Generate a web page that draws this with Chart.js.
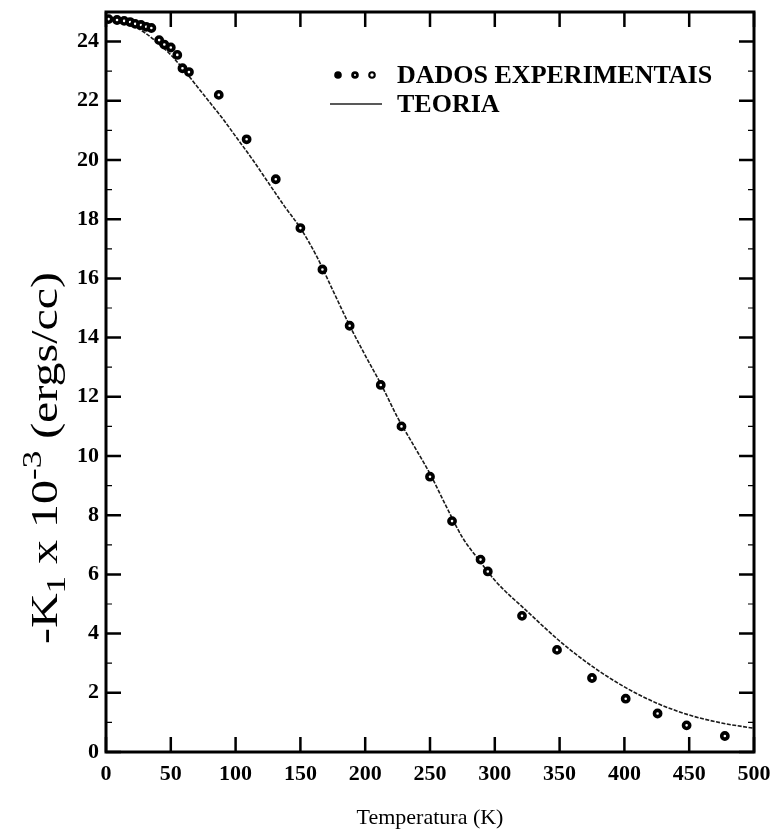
<!DOCTYPE html>
<html>
<head>
<meta charset="utf-8">
<script src="https://cdn.jsdelivr.net/npm/chart.js@4.4.1/dist/chart.umd.min.js"></script>
<style>
  html, body { margin: 0; padding: 0; background: #fff; }
  #wrap { width: 771px; height: 840px; }
</style>
</head>
<body>
<div id="wrap"><canvas id="c" width="771" height="840"></canvas></div>
<script>
// Measured anisotropy constant, -K1 x 10^-3 (ergs/cc), against temperature (K)
const expT = [2, 8.5, 14, 18.6, 22.5, 27, 31, 35, 41, 45, 50, 55, 59, 64, 87, 108.5, 131, 150, 167, 188, 212, 228, 250, 267, 289, 294.6, 321, 348, 375, 401, 425.6, 448, 477.5];
const expK = [24.76, 24.73, 24.7, 24.66, 24.6, 24.56, 24.5, 24.46, 24.05, 23.9, 23.8, 23.55, 23.1, 22.97, 22.2, 20.7, 19.35, 17.7, 16.3, 14.4, 12.4, 11.0, 9.3, 7.8, 6.5, 6.1, 4.6, 3.45, 2.5, 1.8, 1.3, 0.9, 0.54];

// Theoretical curve
const theoryT = [0, 10, 20, 30, 40, 50, 60, 70, 80, 90, 100, 112.5, 125, 137.5, 150, 162.5, 175, 187.5, 200, 212.5, 225, 237.5, 250, 262.5, 275, 287.5, 300, 325, 350, 375, 400, 425, 450, 475, 500];
const theoryK = [24.8, 24.72, 24.55, 24.3, 23.95, 23.55, 23.05, 22.5, 21.95, 21.4, 20.8, 20.05, 19.25, 18.45, 17.7, 16.75, 15.6, 14.45, 13.4, 12.4, 11.3, 10.35, 9.4, 8.3, 7.25, 6.5, 5.8, 4.75, 3.75, 2.9, 2.2, 1.65, 1.25, 0.98, 0.8];

const xTicks = [0, 50, 100, 150, 200, 250, 300, 350, 400, 450, 500];
const yTicks = [0, 2, 4, 6, 8, 10, 12, 14, 16, 18, 20, 22, 24];
const yMinorTicks = [1, 3, 5, 7, 9, 11, 13, 15, 17, 19, 21, 23];

const legendLabels = ['DADOS EXPERIMENTAIS', 'TEORIA'];
const xTitle = 'Temperatura (K)';

const SERIF = "'Liberation Serif', 'DejaVu Serif', serif";

// Frame with inward tick marks on all four sides
const framePlugin = {
  id: 'frame',
  afterDraw(chart) {
    const { ctx, chartArea: a, scales: { x, y } } = chart;
    ctx.save();
    ctx.strokeStyle = '#000';
    ctx.lineWidth = 3;
    ctx.strokeRect(a.left, a.top, a.right - a.left, a.bottom - a.top);
    ctx.lineWidth = 2.5;
    const major = 15, minor = 6;
    ctx.beginPath();
    xTicks.forEach(v => {
      const px = x.getPixelForValue(v);
      ctx.moveTo(px, a.bottom); ctx.lineTo(px, a.bottom - major);
      ctx.moveTo(px, a.top); ctx.lineTo(px, a.top + major);
    });
    yTicks.forEach(v => {
      const py = y.getPixelForValue(v);
      ctx.moveTo(a.left, py); ctx.lineTo(a.left + major, py);
      ctx.moveTo(a.right, py); ctx.lineTo(a.right - major, py);
    });
    ctx.stroke();
    ctx.lineWidth = 1.2;
    ctx.beginPath();
    yMinorTicks.forEach(v => {
      const py = y.getPixelForValue(v);
      ctx.moveTo(a.left, py); ctx.lineTo(a.left + minor, py);
      ctx.moveTo(a.right, py); ctx.lineTo(a.right - minor, py);
    });
    ctx.stroke();
    ctx.restore();
  }
};

// Axis titles (y title carries a subscript and a superscript) and in-plot legend
const textPlugin = {
  id: 'texts',
  afterDraw(chart) {
    const { ctx, chartArea: a } = chart;
    ctx.save();
    ctx.fillStyle = '#000';

    // x title
    ctx.font = `22px ${SERIF}`;
    ctx.textAlign = 'center';
    ctx.textBaseline = 'alphabetic';
    ctx.fillText(xTitle, (a.left + a.right) / 2, 824);

    // y title, rotated
    const parts = [
      { t: '-K', size: 37, dy: 0 },
      { t: '1', size: 27, dy: 8 },
      { t: ' x 10', size: 37, dy: 0 },
      { t: '-3', size: 27, dy: -16 },
      { t: ' (ergs/cc)', size: 37, dy: 0 }
    ];
    let total = 0;
    parts.forEach(p => { ctx.font = `${p.size}px ${SERIF}`; p.w = ctx.measureText(p.t).width; total += p.w; });
    const span = 372;
    ctx.translate(57, 458);
    ctx.rotate(-Math.PI / 2);
    ctx.scale(span / total, 1);
    ctx.textAlign = 'left';
    let cx = -total / 2;
    parts.forEach(p => {
      ctx.font = `${p.size}px ${SERIF}`;
      ctx.fillText(p.t, cx, p.dy);
      cx += p.w;
    });
    ctx.setTransform(1, 0, 0, 1, 0, 0);

    // legend
    ctx.font = `bold 26px ${SERIF}`;
    ctx.textAlign = 'left';
    ctx.textBaseline = 'middle';
    const ly1 = 75, ly2 = 104;
    [[338, 0], [355, 1.0], [372, 1.7]].forEach(([mx, hole]) => {
      ctx.beginPath();
      ctx.arc(mx, ly1, 3.8, 0, Math.PI * 2);
      ctx.fillStyle = '#000';
      ctx.fill();
      if (hole > 0) {
        ctx.beginPath();
        ctx.arc(mx, ly1, hole, 0, Math.PI * 2);
        ctx.fillStyle = '#fff';
        ctx.fill();
      }
    });
    ctx.fillStyle = '#000';
    ctx.fillText(legendLabels[0], 397, ly1 + 1);
    ctx.beginPath();
    ctx.lineWidth = 1.3;
    ctx.strokeStyle = '#222';
    ctx.moveTo(330, ly2); ctx.lineTo(382, ly2);
    ctx.stroke();
    ctx.fillText(legendLabels[1], 397, ly2 + 1);
    ctx.restore();
  }
};

const zeroPad = s => { s.paddingLeft = 0; s.paddingRight = 0; s.paddingTop = 0; s.paddingBottom = 0; };

new Chart(document.getElementById('c'), {
  type: 'scatter',
  data: {
    datasets: [
      {
        label: legendLabels[1],
        type: 'line',
        data: theoryT.map((t, i) => ({ x: t, y: theoryK[i] })),
        borderColor: '#1a1a1a',
        borderWidth: 1.6,
        borderDash: [4, 1.5],
        pointRadius: 0,
        cubicInterpolationMode: 'monotone',
        fill: false,
        order: 2
      },
      {
        label: legendLabels[0],
        data: expT.map((t, i) => ({ x: t, y: expK[i] })),
        pointStyle: 'circle',
        pointRadius: 3.1,
        pointBorderWidth: 3.6,
        pointBorderColor: '#000',
        pointBackgroundColor: '#fff',
        order: 1
      }
    ]
  },
  options: {
    responsive: false,
    animation: false,
    devicePixelRatio: 1,
    layout: { padding: { top: 12, right: 17, left: 0, bottom: 0 } },
    plugins: { legend: { display: false }, tooltip: { enabled: false } },
    scales: {
      x: {
        type: 'linear',
        min: 0, max: 500,
        afterBuildTicks: s => { s.ticks = xTicks.map(v => ({ value: v })); },
        afterFit: s => { s.height = 88; zeroPad(s); },
        grid: { display: false, drawTicks: false },
        border: { display: false },
        ticks: { color: '#000', padding: 9, maxRotation: 0, font: { family: SERIF, size: 22, weight: 'bold' } }
      },
      y: {
        type: 'linear',
        min: 0, max: 25,
        afterBuildTicks: s => { s.ticks = yTicks.map(v => ({ value: v })); },
        afterFit: s => { s.width = 106; zeroPad(s); },
        grid: { display: false, drawTicks: false },
        border: { display: false },
        ticks: { color: '#000', padding: 7, font: { family: SERIF, size: 22, weight: 'bold' } }
      }
    }
  },
  plugins: [framePlugin, textPlugin]
});
</script>
</body>
</html>
